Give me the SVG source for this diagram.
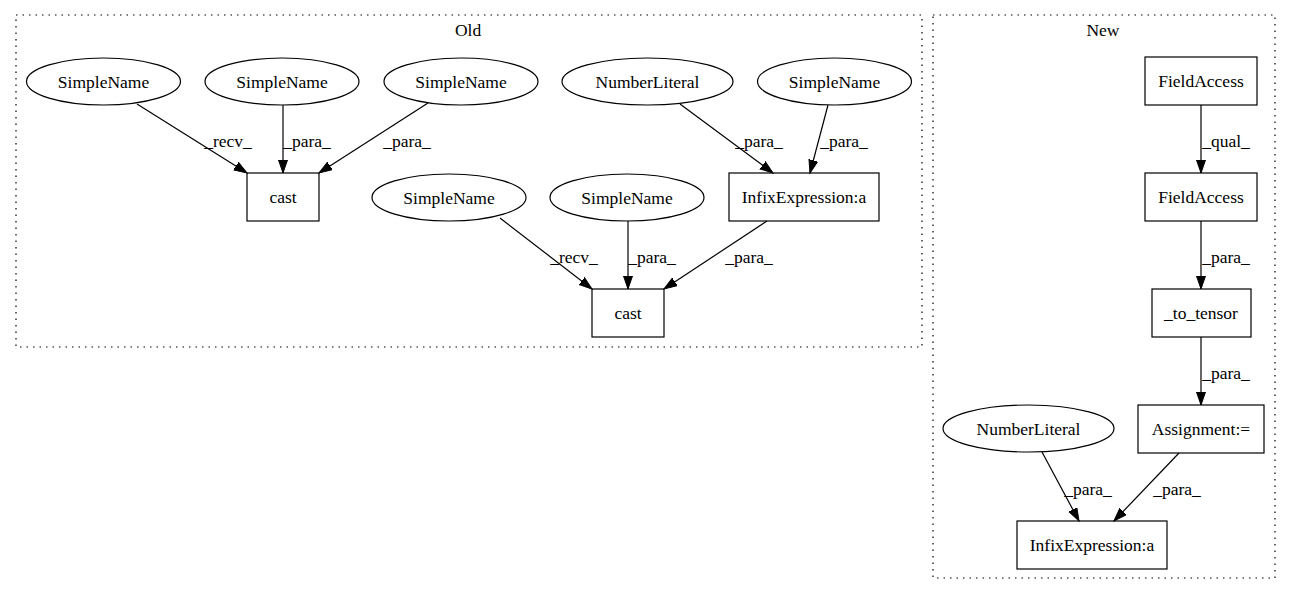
<svg xmlns="http://www.w3.org/2000/svg" width="1291" height="596" viewBox="0 0 1291 596">
<style>
text{font-family:"Liberation Serif","Times New Roman",serif;font-size:17.5px;fill:#000;text-anchor:middle}
.n{fill:none;stroke:#000;stroke-width:1.2}
.c{fill:none;stroke:#000;stroke-width:1.2;stroke-dasharray:1.5,5}
.e{fill:none;stroke:#000;stroke-width:1.2;marker-end:url(#ah)}
</style>
<defs>
<marker id="ah" markerUnits="userSpaceOnUse" markerWidth="15" markerHeight="11" refX="13" refY="5" orient="auto">
<path d="M0,0.5 L13,5 L0,9.5 z" fill="#000" stroke="#000" stroke-width="1"/>
</marker>
</defs>
<rect width="1291" height="596" fill="#fff"/>
<g id="cluster_old">
<rect class="c" x="16" y="15" width="906" height="332"/>
<text x="468" y="36">Old</text>
</g>
<g id="cluster_new">
<rect class="c" x="933" y="15" width="342" height="563"/>
<text x="1103" y="36">New</text>
</g>
<g id="connectors">
<path class="e" d="M137,104 L247,173"/>
<text x="228" y="147">_recv_</text>
<path class="e" d="M283,105 L283,173"/>
<text x="307" y="147">_para_</text>
<path class="e" d="M428,103 L319,173"/>
<text x="407" y="147">_para_</text>
<path class="e" d="M680,104 L773,173"/>
<text x="759" y="147">_para_</text>
<path class="e" d="M828,105 L810,173"/>
<text x="844" y="147">_para_</text>
<path class="e" d="M500,218 L592,289"/>
<text x="574" y="263">_recv_</text>
<path class="e" d="M628,221 L628,289"/>
<text x="652" y="263">_para_</text>
<path class="e" d="M767,221 L664,289"/>
<text x="749" y="263">_para_</text>
<path class="e" d="M1201,105 L1201,173"/>
<text x="1226" y="147">_qual_</text>
<path class="e" d="M1201,221 L1201,289"/>
<text x="1226" y="263">_para_</text>
<path class="e" d="M1201,337 L1201,405"/>
<text x="1226" y="379">_para_</text>
<path class="e" d="M1042,452 L1079,521"/>
<text x="1088" y="495">_para_</text>
<path class="e" d="M1179,453 L1114,521"/>
<text x="1177" y="495">_para_</text>
</g>
<g id="sn1"><ellipse class="n" cx="103.5" cy="81.5" rx="77" ry="23.5"/><text x="103.5" y="87.5">SimpleName</text></g>
<g id="sn2"><ellipse class="n" cx="282" cy="81.5" rx="77" ry="23.5"/><text x="282" y="87.5">SimpleName</text></g>
<g id="sn3"><ellipse class="n" cx="461" cy="81.5" rx="77" ry="23.5"/><text x="461" y="87.5">SimpleName</text></g>
<g id="cast1"><rect class="n" x="247" y="173" width="72" height="48"/><text x="283" y="203">cast</text></g>
<g id="nl_old"><ellipse class="n" cx="647.5" cy="81.5" rx="85.5" ry="23.5"/><text x="647.5" y="87.5">NumberLiteral</text></g>
<g id="sn6"><ellipse class="n" cx="834.5" cy="81.5" rx="77" ry="23.5"/><text x="834.5" y="87.5">SimpleName</text></g>
<g id="sn4"><ellipse class="n" cx="449" cy="197.5" rx="77" ry="23.5"/><text x="449" y="203.5">SimpleName</text></g>
<g id="sn5"><ellipse class="n" cx="627" cy="197.5" rx="77" ry="23.5"/><text x="627" y="203.5">SimpleName</text></g>
<g id="infix_old"><rect class="n" x="729" y="173" width="150" height="48"/><text x="804" y="203">InfixExpression:a</text></g>
<g id="cast2"><rect class="n" x="592" y="289" width="72" height="48"/><text x="628" y="319">cast</text></g>
<g id="fa1"><rect class="n" x="1145" y="57" width="112" height="48"/><text x="1201" y="87">FieldAccess</text></g>
<g id="fa2"><rect class="n" x="1145" y="173" width="112" height="48"/><text x="1201" y="203">FieldAccess</text></g>
<g id="to_tensor"><rect class="n" x="1152" y="289" width="99" height="48"/><text x="1201" y="319">_to_tensor</text></g>
<g id="assign"><rect class="n" x="1138" y="405" width="126" height="48"/><text x="1201" y="435">Assignment:=</text></g>
<g id="nl_new"><ellipse class="n" cx="1028.5" cy="428.5" rx="85.5" ry="23.5"/><text x="1028.5" y="434.5">NumberLiteral</text></g>
<g id="infix_new"><rect class="n" x="1017" y="521" width="150" height="48"/><text x="1092" y="551">InfixExpression:a</text></g>
</svg>
